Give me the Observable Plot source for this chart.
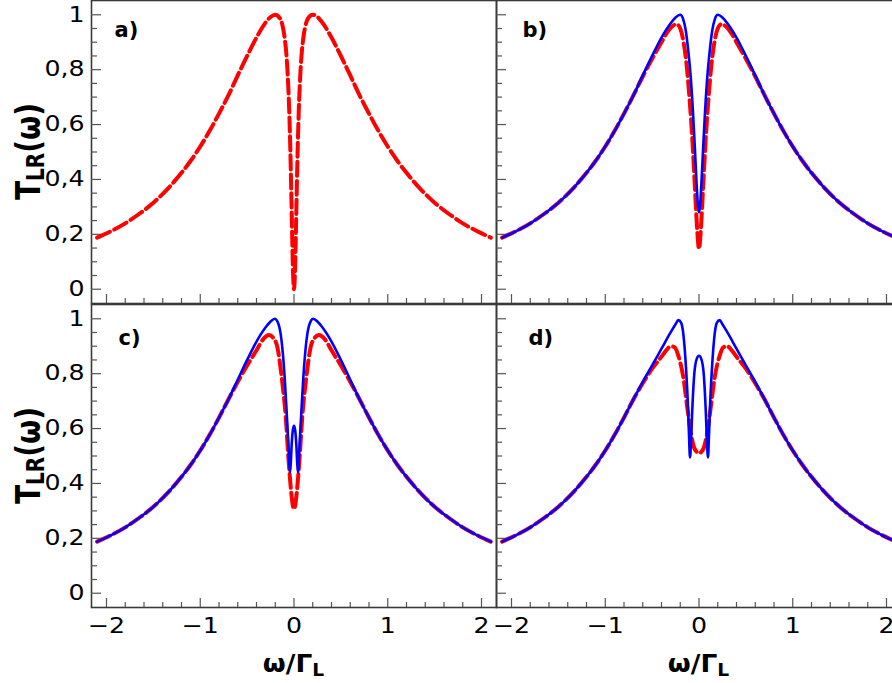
<!DOCTYPE html>
<html><head><meta charset="utf-8">
<script src="https://cdn.jsdelivr.net/npm/d3@7"></script>
<script src="https://cdn.jsdelivr.net/npm/@observablehq/plot@0.6"></script>
<style>
body{margin:0;background:#fff;}
#fig{position:relative;width:892px;height:683px;overflow:hidden;background:#fff;}
#fig svg{position:absolute;left:0;top:0;}
</style></head><body><div id="fig"></div>
<script>
// ---------- data ----------
const xMajorTicks = [-2, -1, 0, 1, 2];
const xTickLabels = ["\u22122", "\u22121", "0", "1", "2"];
const xMinorTicks = [-1.8,-1.6,-1.4,-1.2,-0.8,-0.6,-0.4,-0.2,0.2,0.4,0.6,0.8,1.2,1.4,1.6,1.8];
const yMajorTicks = [0, 0.2, 0.4, 0.6, 0.8, 1];
const yTickLabels = ["0", "0,2", "0,4", "0,6", "0,8", "1"];
const yMinorTicks = [0.05,0.1,0.15,0.25,0.3,0.35,0.45,0.5,0.55,0.65,0.7,0.75,0.85,0.9,0.95];
const panelLabels = ["a)", "b)", "c)", "d)"];
const xTitle = ["\u03c9/\u0393", "L"];
const yTitle = ["T", "LR", "(\u03c9)"];

// common tails (all curves coincide there)
const tailW_L = [-2.1,-1.95,-1.8,-1.65,-1.5,-1.35,-1.2,-1.1,-1.0,-0.9,-0.8,-0.7];
const tailT_L = [0.188,0.212,0.240,0.275,0.315,0.365,0.424,0.469,0.520,0.577,0.640,0.706];
const tailW_R = [0.7,0.8,0.9,1.0,1.1,1.2,1.35,1.5,1.65,1.8,1.95,2.1];
const tailT_R = [0.706,0.640,0.577,0.520,0.469,0.424,0.365,0.315,0.275,0.240,0.212,0.188];

// panel a (red dashed)
const aRedW = [-0.6,-0.5,-0.4,-0.3,-0.25,-0.2,-0.15,-0.12,-0.1,-0.085,-0.07,-0.05,-0.04,-0.03,-0.02,-0.01,0,0.01,0.02,0.03,0.04,0.05,0.07,0.085,0.1,0.12,0.15,0.2,0.25,0.3,0.4,0.5,0.6];
const aRedT = [0.779,0.850,0.917,0.973,0.992,1.0,0.987,0.957,0.917,0.871,0.799,0.640,0.520,0.371,0.203,0.059,0,0.059,0.203,0.371,0.520,0.640,0.799,0.871,0.917,0.957,0.987,1.0,0.992,0.973,0.917,0.850,0.779];

// panel b
const bBlueW = [-0.6,-0.5,-0.4,-0.3,-0.25,-0.2,-0.17,-0.14,-0.115,-0.09,-0.065,-0.045,-0.025,-0.01,0,0.01,0.025,0.045,0.065,0.09,0.115,0.14,0.17,0.2,0.25,0.3,0.4,0.5,0.6];
const bBlueT = [0.779,0.850,0.917,0.970,0.990,1.0,0.985,0.94,0.87,0.78,0.65,0.52,0.38,0.30,0.28,0.30,0.38,0.52,0.65,0.78,0.87,0.94,0.985,1.0,0.990,0.970,0.917,0.850,0.779];
const bRedW = [-0.6,-0.5,-0.45,-0.4,-0.35,-0.3,-0.24,-0.2,-0.167,-0.13,-0.1,-0.07,-0.045,-0.02,0,0.02,0.045,0.07,0.1,0.13,0.167,0.2,0.24,0.3,0.35,0.4,0.45,0.5,0.6];
const bRedT = [0.775,0.84,0.87,0.90,0.93,0.953,0.966,0.95,0.905,0.81,0.69,0.54,0.38,0.22,0.147,0.22,0.38,0.54,0.69,0.81,0.905,0.95,0.966,0.953,0.93,0.90,0.87,0.84,0.775];

// panel c
const cBlueW = [-0.6,-0.5,-0.4,-0.3,-0.25,-0.206,-0.17,-0.142,-0.107,-0.081,-0.06,-0.05,-0.043,-0.035,-0.025,-0.012,0,0.012,0.025,0.035,0.043,0.05,0.06,0.081,0.107,0.142,0.17,0.206,0.25,0.3,0.4,0.5,0.6];
const cBlueT = [0.778,0.85,0.917,0.97,0.99,1.0,0.985,0.944,0.823,0.677,0.544,0.47,0.44,0.47,0.54,0.595,0.61,0.595,0.54,0.47,0.44,0.47,0.544,0.677,0.823,0.944,0.985,1.0,0.99,0.97,0.917,0.85,0.778];
const cRedW = [-0.6,-0.5,-0.4,-0.33,-0.266,-0.22,-0.177,-0.131,-0.088,-0.06,-0.028,-0.012,0,0.012,0.028,0.06,0.088,0.131,0.177,0.22,0.266,0.33,0.4,0.5,0.6];
const cRedT = [0.77,0.83,0.885,0.925,0.941,0.93,0.896,0.786,0.641,0.495,0.362,0.318,0.307,0.318,0.362,0.495,0.641,0.786,0.896,0.93,0.941,0.925,0.885,0.83,0.77];

// panel d
const dBlueW = [-0.6,-0.5,-0.4,-0.3,-0.25,-0.22,-0.19,-0.167,-0.139,-0.12,-0.107,-0.096,-0.085,-0.075,-0.05,-0.025,0,0.025,0.05,0.075,0.085,0.096,0.107,0.12,0.139,0.167,0.19,0.22,0.25,0.3,0.4,0.5,0.6];
const dBlueT = [0.770,0.830,0.891,0.952,0.980,0.995,0.985,0.944,0.823,0.70,0.58,0.495,0.55,0.641,0.80,0.853,0.865,0.853,0.80,0.641,0.55,0.495,0.58,0.70,0.823,0.944,0.985,0.995,0.980,0.952,0.891,0.830,0.770];
const dRedW = [-0.6,-0.5,-0.4,-0.35,-0.3,-0.26,-0.22,-0.167,-0.125,-0.085,-0.053,-0.025,0,0.025,0.053,0.085,0.125,0.167,0.22,0.26,0.3,0.35,0.4,0.5,0.6];
const dRedT = [0.765,0.818,0.862,0.885,0.90,0.896,0.865,0.786,0.677,0.58,0.531,0.515,0.51,0.515,0.531,0.58,0.677,0.786,0.865,0.896,0.90,0.885,0.862,0.818,0.765];

// ---------- build ----------
function rows(coreW, coreT) {
  const w = [...tailW_L, ...coreW, ...tailW_R];
  const t = [...tailT_L, ...coreT, ...tailT_R];
  return w.map((x, i) => ({w: x, t: t[i]}));
}

// widen tick-label glyphs horizontally (reference glyphs are wider than DejaVu at equal height)
function widen(svg, k) {
  svg.querySelectorAll('g[aria-label$="tick label"] text').forEach(el => {
    const L = el.getComputedTextLength();
    if (L > 0) {
      el.setAttribute("textLength", (L * k).toFixed(2));
      el.setAttribute("lengthAdjust", "spacingAndGlyphs");
    }
  });
}

const W = 902, H = 683, PW = 405, PH = 303;
const panels = [
  {label: panelLabels[0], left: 91,  top: 0,   red: rows(aRedW, aRedT), blue: null, yLab: true,  xLab: false, ldx: 23, ldy: 22},
  {label: panelLabels[1], left: 496, top: 0,   red: rows(bRedW, bRedT), blue: rows(bBlueW, bBlueT), yLab: false, xLab: false, ldx: 26, ldy: 22},
  {label: panelLabels[2], left: 91,  top: 304, red: rows(cRedW, cRedT), blue: rows(cBlueW, cBlueT), yLab: true,  xLab: true, ldx: 27, ldy: 26},
  {label: panelLabels[3], left: 496, top: 304, red: rows(dRedW, dRedT), blue: rows(dBlueW, dBlueT), yLab: false, xLab: true, ldx: 32, ldy: 26}
];

const fig = document.getElementById("fig");
for (const p of panels) {
  const marks = [
    Plot.frame({stroke: "#3a3a3a", strokeWidth: 1.6}),
    Plot.tickX(xMinorTicks, {x: d => d, insetTop: PH - 5, stroke: "#555", strokeWidth: 1.2}),
    Plot.tickX(xMajorTicks, {x: d => d, insetTop: PH - 9, stroke: "#555", strokeWidth: 1.2}),
    Plot.tickY(yMinorTicks, {y: d => d, insetRight: PW - 6, stroke: "#555", strokeWidth: 1.2}),
    Plot.tickY(yMajorTicks, {y: d => d, insetRight: PW - 10, stroke: "#555", strokeWidth: 1.2}),
    Plot.line(p.red, {x: "w", y: "t", stroke: "#ff0000", strokeWidth: 4, strokeDasharray: "14,5", curve: "monotone-x"})
  ];
  if (p.blue) marks.push(Plot.line(p.blue, {x: "w", y: "t", stroke: "#0000ff", strokeWidth: 2.6, curve: "monotone-x"}));
  if (p.yLab) marks.push(Plot.axisY({ticks: yMajorTicks, tickSize: 0, tickPadding: 7, label: null,
    tickFormat: d => yTickLabels[yMajorTicks.indexOf(d)], fill: "#000", fontSize: 21}));
  if (p.xLab) marks.push(Plot.axisX({ticks: xMajorTicks, tickSize: 0, tickPadding: 11, label: null,
    tickFormat: d => xTickLabels[xMajorTicks.indexOf(d)], fill: "#000", fontSize: 21}));
  marks.push(Plot.text([p.label], {text: d => d, frameAnchor: "top-left", dx: p.ldx, dy: p.ldy,
    textAnchor: "start", lineAnchor: "top", fontWeight: "bold", fontSize: 21, fill: "#000"}));

  const svg = Plot.plot({
    width: W, height: H,
    marginLeft: p.left, marginRight: W - p.left - PW,
    marginTop: p.top, marginBottom: H - p.top - PH,
    x: {domain: [-2.16, 2.16], axis: null},
    y: {domain: [-0.052, 1.052], axis: null},
    style: {background: "transparent", maxWidth: "none", overflow: "visible", fontFamily: "DejaVu Sans", fontSize: "21px", color: "#000"},
    marks
  });
  fig.appendChild(svg);
  widen(svg, 1.2);

  const s = d3.select(svg);
  if (p.yLab) {
    const t = s.append("text")
      .attr("transform", `translate(40,${p.top + PH / 2}) scale(1.2,1) rotate(-90)`)
      .attr("text-anchor", "middle").attr("font-family", "DejaVu Sans")
      .attr("font-weight", "bold").attr("font-size", 28).attr("fill", "#000");
    t.append("tspan").text(yTitle[0]);
    t.append("tspan").attr("font-size", 20).attr("dy", 3).text(yTitle[1]);
    t.append("tspan").attr("dy", -3).text(yTitle[2]);
  }
  if (p.xLab) {
    const t = s.append("text")
      .attr("transform", `translate(${p.left + PW / 2},672) scale(1.1,1)`)
      .attr("text-anchor", "middle").attr("font-family", "DejaVu Sans")
      .attr("font-weight", "bold").attr("font-size", 24).attr("fill", "#000");
    t.append("tspan").text(xTitle[0]);
    t.append("tspan").attr("font-size", 17).attr("dy", 4).text(xTitle[1]);
  }
}
</script>
</body></html>
